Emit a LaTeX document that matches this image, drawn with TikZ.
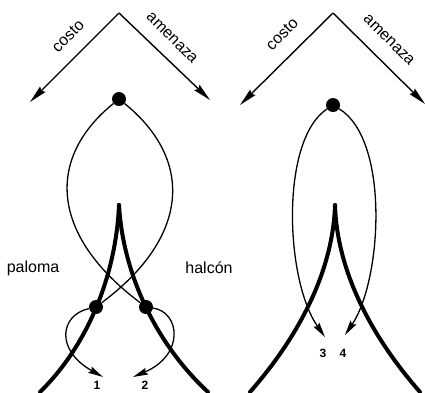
\documentclass[tikz,border=0pt]{standalone}
\usepackage{fontspec}
\setmainfont{Liberation Sans}
\usetikzlibrary{arrows.meta}
\begin{document}
\begin{tikzpicture}[x=1pt,y=-1pt,
  varrow/.style={line width=1.4pt,-{Stealth[length=18pt,width=7.5pt,inset=2pt]}},
  thinarc/.style={line width=1.3pt},
  thinarrow/.style={line width=1.3pt,-{Stealth[length=15pt,width=7pt,inset=2pt]}},
  thickarc/.style={line width=4pt,line cap=round},
  dotnode/.style={circle,fill=black,inner sep=0pt,minimum size=14pt},
  lbl/.style={inner sep=0pt,font=\fontsize{16}{19}\selectfont},
  num/.style={inner sep=0pt,font=\fontsize{12}{14}\selectfont\bfseries}]
\useasboundingbox[fill=white] (0,0) rectangle (425,392);
% ---------- left panel ----------
\coordinate (LA) at (119,13);
\coordinate (LL) at (30,102);
\coordinate (LR) at (210,100);
\draw[varrow] (LA) -- (LL);
\draw[varrow] (LA) -- (LR);
\node[lbl,rotate=45] (Lcosto) at (68,36) {costo};
\node[lbl,rotate=-45] (Lamen) at (172,38) {amenaza};
\coordinate (Lapex) at (119,205);
\coordinate (Lbl) at (40,392);
\coordinate (Lbr) at (208,392);
\draw[thickarc] (Lapex) .. controls (116,275) and (88,345) .. (Lbl);
\draw[thickarc] (Lapex) .. controls (123,275) and (157,345) .. (Lbr);
\node[dotnode] (Ltop) at (119,99) {};
\node[dotnode] (Ldl) at (96,307) {};
\node[dotnode] (Ldr) at (146,307) {};
\draw[thinarc] (Ltop) .. controls (45,159) and (51,236) .. (Ldr);
\draw[thinarc] (Ltop) .. controls (193,159) and (191,236) .. (Ldl);
\coordinate (Lt1) at (103,377);
\coordinate (Lt2) at (133,377);
\draw[thinarrow] (Ldl) .. controls (60,315) and (55,350) .. (Lt1);
\draw[thinarrow] (Ldr) .. controls (180,312) and (185,355) .. (Lt2);
\node[num] (n1) at (97,385) {1};
\node[num] (n2) at (145,385) {2};
\node[lbl] (paloma) at (33,268) {paloma};
\node[lbl] (halcon) at (209,268) {halcón};
% ---------- right panel ----------
\coordinate (RA) at (333,13);
\coordinate (RL) at (240,105);
\coordinate (RR) at (425,104);
\draw[varrow] (RA) -- (RL);
\draw[varrow] (RA) -- (RR);
\node[lbl,rotate=45] (Rcosto) at (282,34) {costo};
\node[lbl,rotate=-45] (Ramen) at (389,40) {amenaza};
\coordinate (Rapex) at (335,205);
\coordinate (Rbl) at (250,392);
\coordinate (Rbr) at (420,392);
\draw[thickarc] (Rapex) .. controls (333,270) and (300,335) .. (Rbl);
\draw[thickarc] (Rapex) .. controls (337,270) and (370,335) .. (Rbr);
\node[dotnode] (Rtop) at (333,105) {};
\coordinate (Rt3) at (325,337);
\coordinate (Rt4) at (345,335);
\draw[thinarrow] (Rtop) .. controls (280,140) and (285,280) .. (Rt3);
\draw[thinarrow] (Rtop) .. controls (390,140) and (382,280) .. (Rt4);
\node[num] (n3) at (323,353) {3};
\node[num] (n4) at (343,353) {4};
\end{tikzpicture}
\end{document}
